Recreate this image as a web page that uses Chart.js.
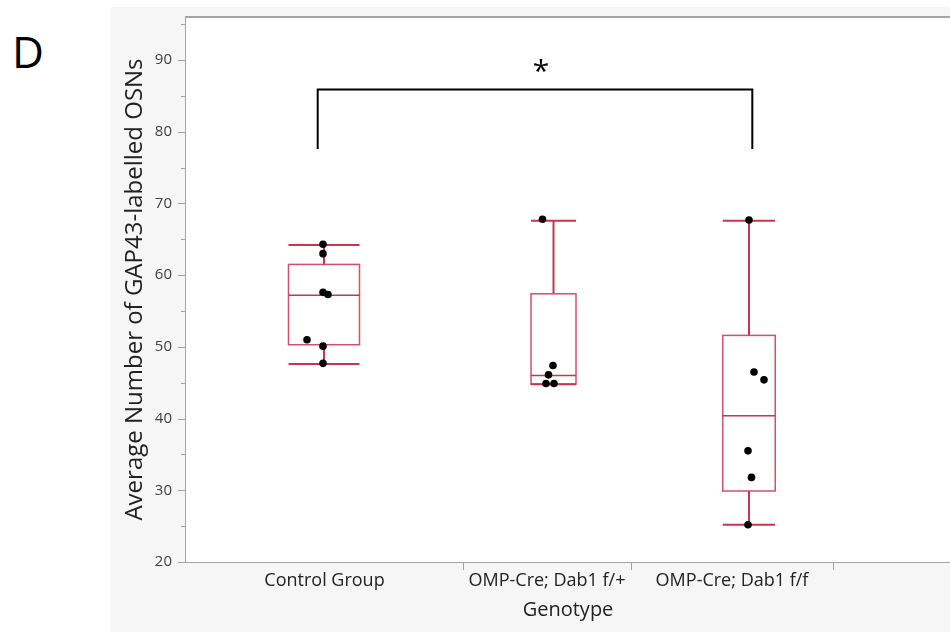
<!DOCTYPE html>
<html><head><meta charset="utf-8">
<script src="https://cdn.jsdelivr.net/npm/chart.js@4.4.1/dist/chart.umd.min.js"></script>
<style>
html,body{margin:0;padding:0;background:#fff;}
#wrap{position:relative;width:950px;height:632px;overflow:hidden;}
#panel{position:absolute;left:111px;top:7px;width:839px;height:625px;background:#f6f6f6;}
#lbl{position:absolute;left:12px;top:29px;font:44px "Open Sans";line-height:1;color:#000;}
canvas{position:absolute;left:0;top:0;}
</style></head>
<body><div id="wrap"><div id="panel"></div><div id="lbl">D</div><canvas id="c" width="950" height="632"></canvas></div>
<script>
// ---- data ----
const categories = ['Control Group', 'OMP-Cre; Dab1 f/+', 'OMP-Cre; Dab1 f/f'];
const categoryEdges = [0, 277, 445, 647];          // x-axis category boundaries (axis units)
const boxCenters = [138, 367.5, 563];               // box positions (axis units)
const boxWidths = [71, 45, 52.5];
const mins    = [47.6, 44.8, 25.2];
const q1s     = [50.3, 44.8, 29.9];
const medians = [57.2, 46.0, 40.4];
const q3s     = [61.5, 57.4, 51.6];
const maxs    = [64.2, 67.6, 67.6];
const controlValues = [64.3, 63.0, 57.6, 57.3, 51.0, 50.1, 47.7];
const controlJitter = [-1, -1, -1, 4, -17, -1, -1];
const dabHetValues  = [67.8, 47.4, 46.1, 44.9, 44.9];
const dabHetJitter  = [-11, -0.5, -5, -7.5, 0.5];
const dabHomValues  = [67.7, 46.5, 45.4, 35.5, 31.8, 25.2];
const dabHomJitter  = [0, 5, 15, -1, 2.5, -1];
const yMajorTicks = [20, 30, 40, 50, 60, 70, 80, 90];
const yMinorTicks = [25, 35, 45, 55, 65, 75, 85, 95];
const bracketX = [131.7, 566.3];
const bracketLow = 77.6, bracketHigh = 85.9;
const sigLabel = '*';
const sigX = 355, sigY = 88.2;

const groups = [[controlValues, controlJitter], [dabHetValues, dabHetJitter], [dabHomValues, dabHomJitter]];
const points = [];
groups.forEach(([vals, jit], g) => vals.forEach((v, i) => points.push({x: boxCenters[g] + jit[i], y: v})));

const RED = '#c9354e', BOXRED = '#d2506a', AXIS = '#a3a3a3';
const FONT = '"Open Sans", sans-serif';

const deco = {
  id: 'deco',
  beforeDatasetsDraw(chart) {
    const {ctx, chartArea: a, scales: {x, y}} = chart;
    ctx.save();
    ctx.fillStyle = '#fff';
    ctx.fillRect(a.left, a.top, a.right - a.left, a.bottom - a.top);
    ctx.strokeStyle = AXIS; ctx.lineWidth = 2;
    ctx.beginPath(); ctx.moveTo(a.left, a.top); ctx.lineTo(a.right, a.top); ctx.stroke();
    for (let i = 0; i < categories.length; i++) {
      const cx = x.getPixelForValue(boxCenters[i]);
      const l = x.getPixelForValue(boxCenters[i] - boxWidths[i] / 2);
      const r = x.getPixelForValue(boxCenters[i] + boxWidths[i] / 2);
      const pMin = y.getPixelForValue(mins[i]), pQ1 = y.getPixelForValue(q1s[i]);
      const pMed = y.getPixelForValue(medians[i]), pQ3 = y.getPixelForValue(q3s[i]);
      const pMax = y.getPixelForValue(maxs[i]);
      ctx.strokeStyle = BOXRED; ctx.lineWidth = 1.5;
      ctx.strokeRect(l, pQ3, r - l, pQ1 - pQ3);
      ctx.strokeStyle = RED; ctx.lineWidth = 2;
      ctx.beginPath();
      ctx.moveTo(cx, pQ3); ctx.lineTo(cx, pMax);
      ctx.moveTo(cx, pQ1); ctx.lineTo(cx, pMin);
      ctx.moveTo(l, pMax); ctx.lineTo(r, pMax);
      ctx.moveTo(l, pMin); ctx.lineTo(r, pMin);
      ctx.stroke();
      ctx.lineWidth = 1.6;
      ctx.beginPath(); ctx.moveTo(l, pMed); ctx.lineTo(r, pMed); ctx.stroke();
    }
    ctx.restore();
  },
  afterDraw(chart) {
    const {ctx, chartArea: a, scales: {x, y}} = chart;
    ctx.save();
    ctx.strokeStyle = AXIS; ctx.lineWidth = 1;
    ctx.beginPath();
    yMajorTicks.forEach(v => { const p = Math.round(y.getPixelForValue(v)) + 0.5; ctx.moveTo(a.left - 8, p); ctx.lineTo(a.left, p); });
    yMinorTicks.forEach(v => { const p = Math.round(y.getPixelForValue(v)) + 0.5; ctx.moveTo(a.left - 5, p); ctx.lineTo(a.left, p); });
    categoryEdges.slice(1).forEach(v => { const p = Math.round(x.getPixelForValue(v)) + 0.5; ctx.moveTo(p, a.bottom); ctx.lineTo(p, a.bottom + 8); });
    ctx.stroke();
    ctx.fillStyle = '#000';
    ctx.font = '30px ' + FONT;
    ctx.textAlign = 'center'; ctx.textBaseline = 'middle';
    ctx.fillText(sigLabel, x.getPixelForValue(sigX), y.getPixelForValue(sigY));
    ctx.restore();
  }
};

new Chart(document.getElementById('c'), {
  type: 'scatter',
  data: {
    datasets: [
      {data: points, pointRadius: 3.8, pointHoverRadius: 3.8, backgroundColor: '#000', borderWidth: 0},
      {type: 'line', data: [{x: bracketX[0], y: bracketLow}, {x: bracketX[0], y: bracketHigh}, {x: bracketX[1], y: bracketHigh}, {x: bracketX[1], y: bracketLow}],
       showLine: true, pointRadius: 0, borderColor: '#000', borderWidth: 2, tension: 0, fill: false}
    ]
  },
  plugins: [deco],
  options: {
    responsive: false, animation: false,
    layout: {autoPadding: false, padding: {left: 111, top: 17, right: 0, bottom: 0}},
    plugins: {legend: {display: false}, tooltip: {enabled: false}},
    scales: {
      x: {
        type: 'linear', min: 0, max: 764,
        afterBuildTicks: s => { s.ticks = categories.map((c, i) => ({value: (categoryEdges[i] + categoryEdges[i + 1]) / 2})); },
        afterFit: s => { s.height = 70; },
        ticks: {autoSkip: false, maxRotation: 0, padding: 0, color: '#222', font: {family: FONT, size: 18},
                callback: (v, i) => categories[i]},
        grid: {display: false},
        border: {color: AXIS, width: 2},
        title: {display: true, text: 'Genotype', color: '#222', font: {family: FONT, size: 20}, padding: {top: 0, bottom: 10}}
      },
      y: {
        type: 'linear', min: 20, max: 96,
        afterBuildTicks: s => { s.ticks = yMajorTicks.map(v => ({value: v})); },
        afterFit: s => { s.width = 75; },
        ticks: {padding: 6, color: '#404040', font: {family: FONT, size: 15}},
        grid: {display: false},
        border: {color: AXIS, width: 2},
        title: {display: true, text: 'Average Number of GAP43-labelled OSNs', color: '#222', font: {family: FONT, size: 24}, padding: {top: 10, bottom: 0}}
      }
    }
  }
});
</script>
</body></html>
